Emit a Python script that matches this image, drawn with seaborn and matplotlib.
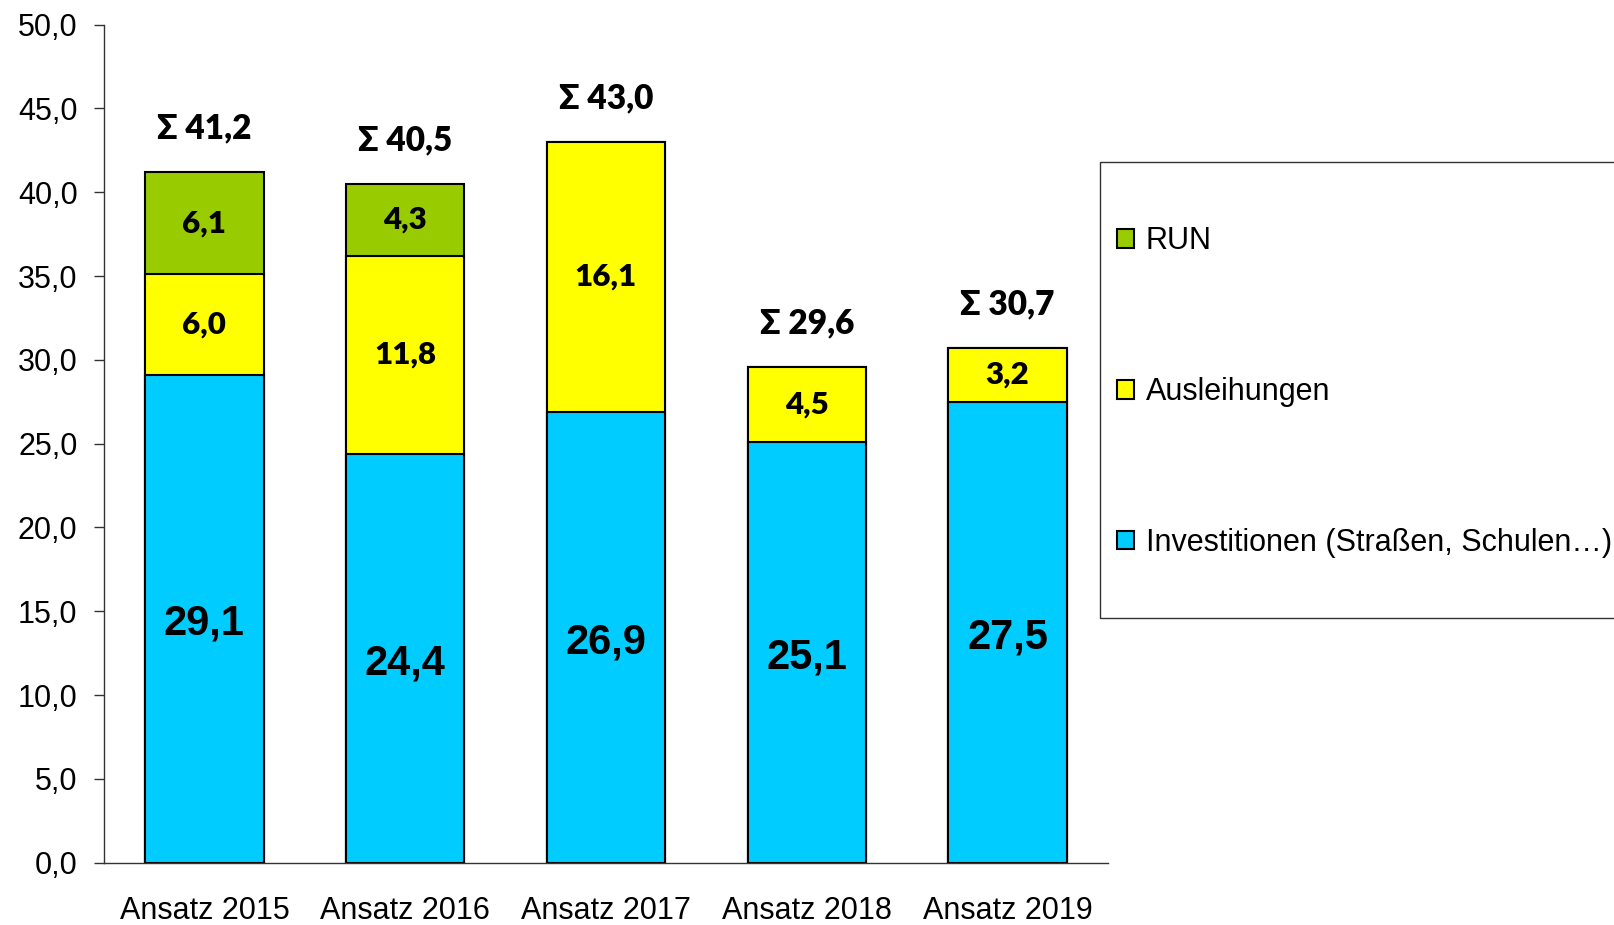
import numpy as np
import pandas as pd
import matplotlib
matplotlib.use("Agg")
import matplotlib.pyplot as plt
from matplotlib.patches import Patch, Rectangle
import seaborn as sns

categories = ["Ansatz 2015", "Ansatz 2016", "Ansatz 2017", "Ansatz 2018", "Ansatz 2019"]
investitionen = [29.1, 24.4, 26.9, 25.1, 27.5]
ausleihungen = [6.0, 11.8, 16.1, 4.5, 3.2]
run = [6.1, 4.3, 0.0, 0.0, 0.0]
totals = [41.2, 40.5, 43.0, 29.6, 30.7]
series_names = ["Investitionen (Straßen, Schulen…)", "Ausleihungen", "RUN"]
yticks = [0, 5, 10, 15, 20, 25, 30, 35, 40, 45, 50]

colors = {"Investitionen (Straßen, Schulen…)": "#00CCFF", "Ausleihungen": "#FFFF00", "RUN": "#99CC00"}

sns.set_style("white")
plt.rcParams["font.family"] = ["Liberation Sans", "DejaVu Sans"]
plt.rcParams["text.color"] = "black"
plt.rcParams["xtick.color"] = "black"
plt.rcParams["ytick.color"] = "black"
plt.rcParams["axes.labelcolor"] = "black"

def fmt(v):
    return f"{v:.1f}".replace(".", ",")

inv = np.array(investitionen)
aus = np.array(ausleihungen)
rn = np.array(run)
df = pd.DataFrame({
    "cat": categories,
    "c1": inv,
    "c2": inv + aus,
    "c3": inv + aus + rn,
})

W, H = 1614, 925
fig = plt.figure(figsize=(W / 100, H / 100), dpi=100)
ax = fig.add_axes([104 / W, 1 - 862.6 / H, (1108 - 104) / W, (862.6 - 24.7) / H])

bw = 0.59
for col, name in [("c3", "RUN"), ("c2", "Ausleihungen"), ("c1", "Investitionen (Straßen, Schulen…)")]:
    sns.barplot(data=df, x="cat", y=col, color=colors[name], saturation=1, width=bw,
                edgecolor="black", linewidth=1.5, ax=ax, zorder=2)

ax.set_xlim(-0.5, 4.5)
ax.set_ylim(0, 50)
ax.set_xlabel("")
ax.set_ylabel("")
ax.set_yticks(yticks)
ax.set_yticklabels([fmt(v) for v in yticks])
ax.set_xticks(range(len(categories)))
ax.set_xticklabels(categories)
ax.set_xticks(np.arange(-0.5, len(categories)), minor=True)
ax.tick_params(axis="x", which="major", length=0, pad=24, labelsize=22, labelcolor="black")
ax.tick_params(axis="x", which="minor", length=7, width=1, direction="out", color="#333333")
ax.tick_params(axis="y", which="major", length=7, width=1, direction="out", pad=12, labelsize=22,
               color="#333333", labelcolor="black", left=True)
for s in ["top", "right"]:
    ax.spines[s].set_visible(False)
for s in ["left", "bottom"]:
    ax.spines[s].set_color("#333333")
    ax.spines[s].set_linewidth(1)

small_font = dict(family=["Lato", "DejaVu Sans"], weight="heavy", size=22.5, color="black")
sum_font = dict(family=["Lato", "DejaVu Sans"], weight="heavy", size=24, color="black")
big_font = dict(family=["Liberation Sans", "DejaVu Sans"], weight="bold", size=30, color="black")

for i in range(len(categories)):
    ax.text(i, inv[i] / 2 - 0.3, fmt(inv[i]), ha="center", va="center", fontdict=big_font, zorder=5)
    if aus[i] > 0:
        ax.text(i, inv[i] + aus[i] / 2, fmt(aus[i]), ha="center", va="center", fontdict=small_font, zorder=5)
    if rn[i] > 0:
        ax.text(i, inv[i] + aus[i] + rn[i] / 2, fmt(rn[i]), ha="center", va="center", fontdict=small_font, zorder=5)
    ax.text(i, totals[i] + 2.6, "Σ " + fmt(totals[i]), ha="center", va="center", fontdict=sum_font, zorder=5)

handles = [Patch(facecolor=colors[n], edgecolor="black", linewidth=1.5) for n in reversed(series_names)]
labels = list(reversed(series_names))
fs = 22
leg = fig.legend(handles, labels, loc="center left", bbox_to_anchor=(1117 / W, 1 - 392 / H),
                 frameon=False, borderpad=0, borderaxespad=0, fontsize=fs,
                 handlelength=0.56, handleheight=0.56, handletextpad=0.38, labelspacing=3.95)
for t in leg.get_texts():
    t.set_color("black")

fig.patches.append(Rectangle((1100 / W, 1 - 617.6 / H), (1700 - 1100) / W, (617.6 - 161.6) / H,
                             transform=fig.transFigure, fill=False, edgecolor="#333333", linewidth=1))

fig.savefig("out.png", dpi=100)
